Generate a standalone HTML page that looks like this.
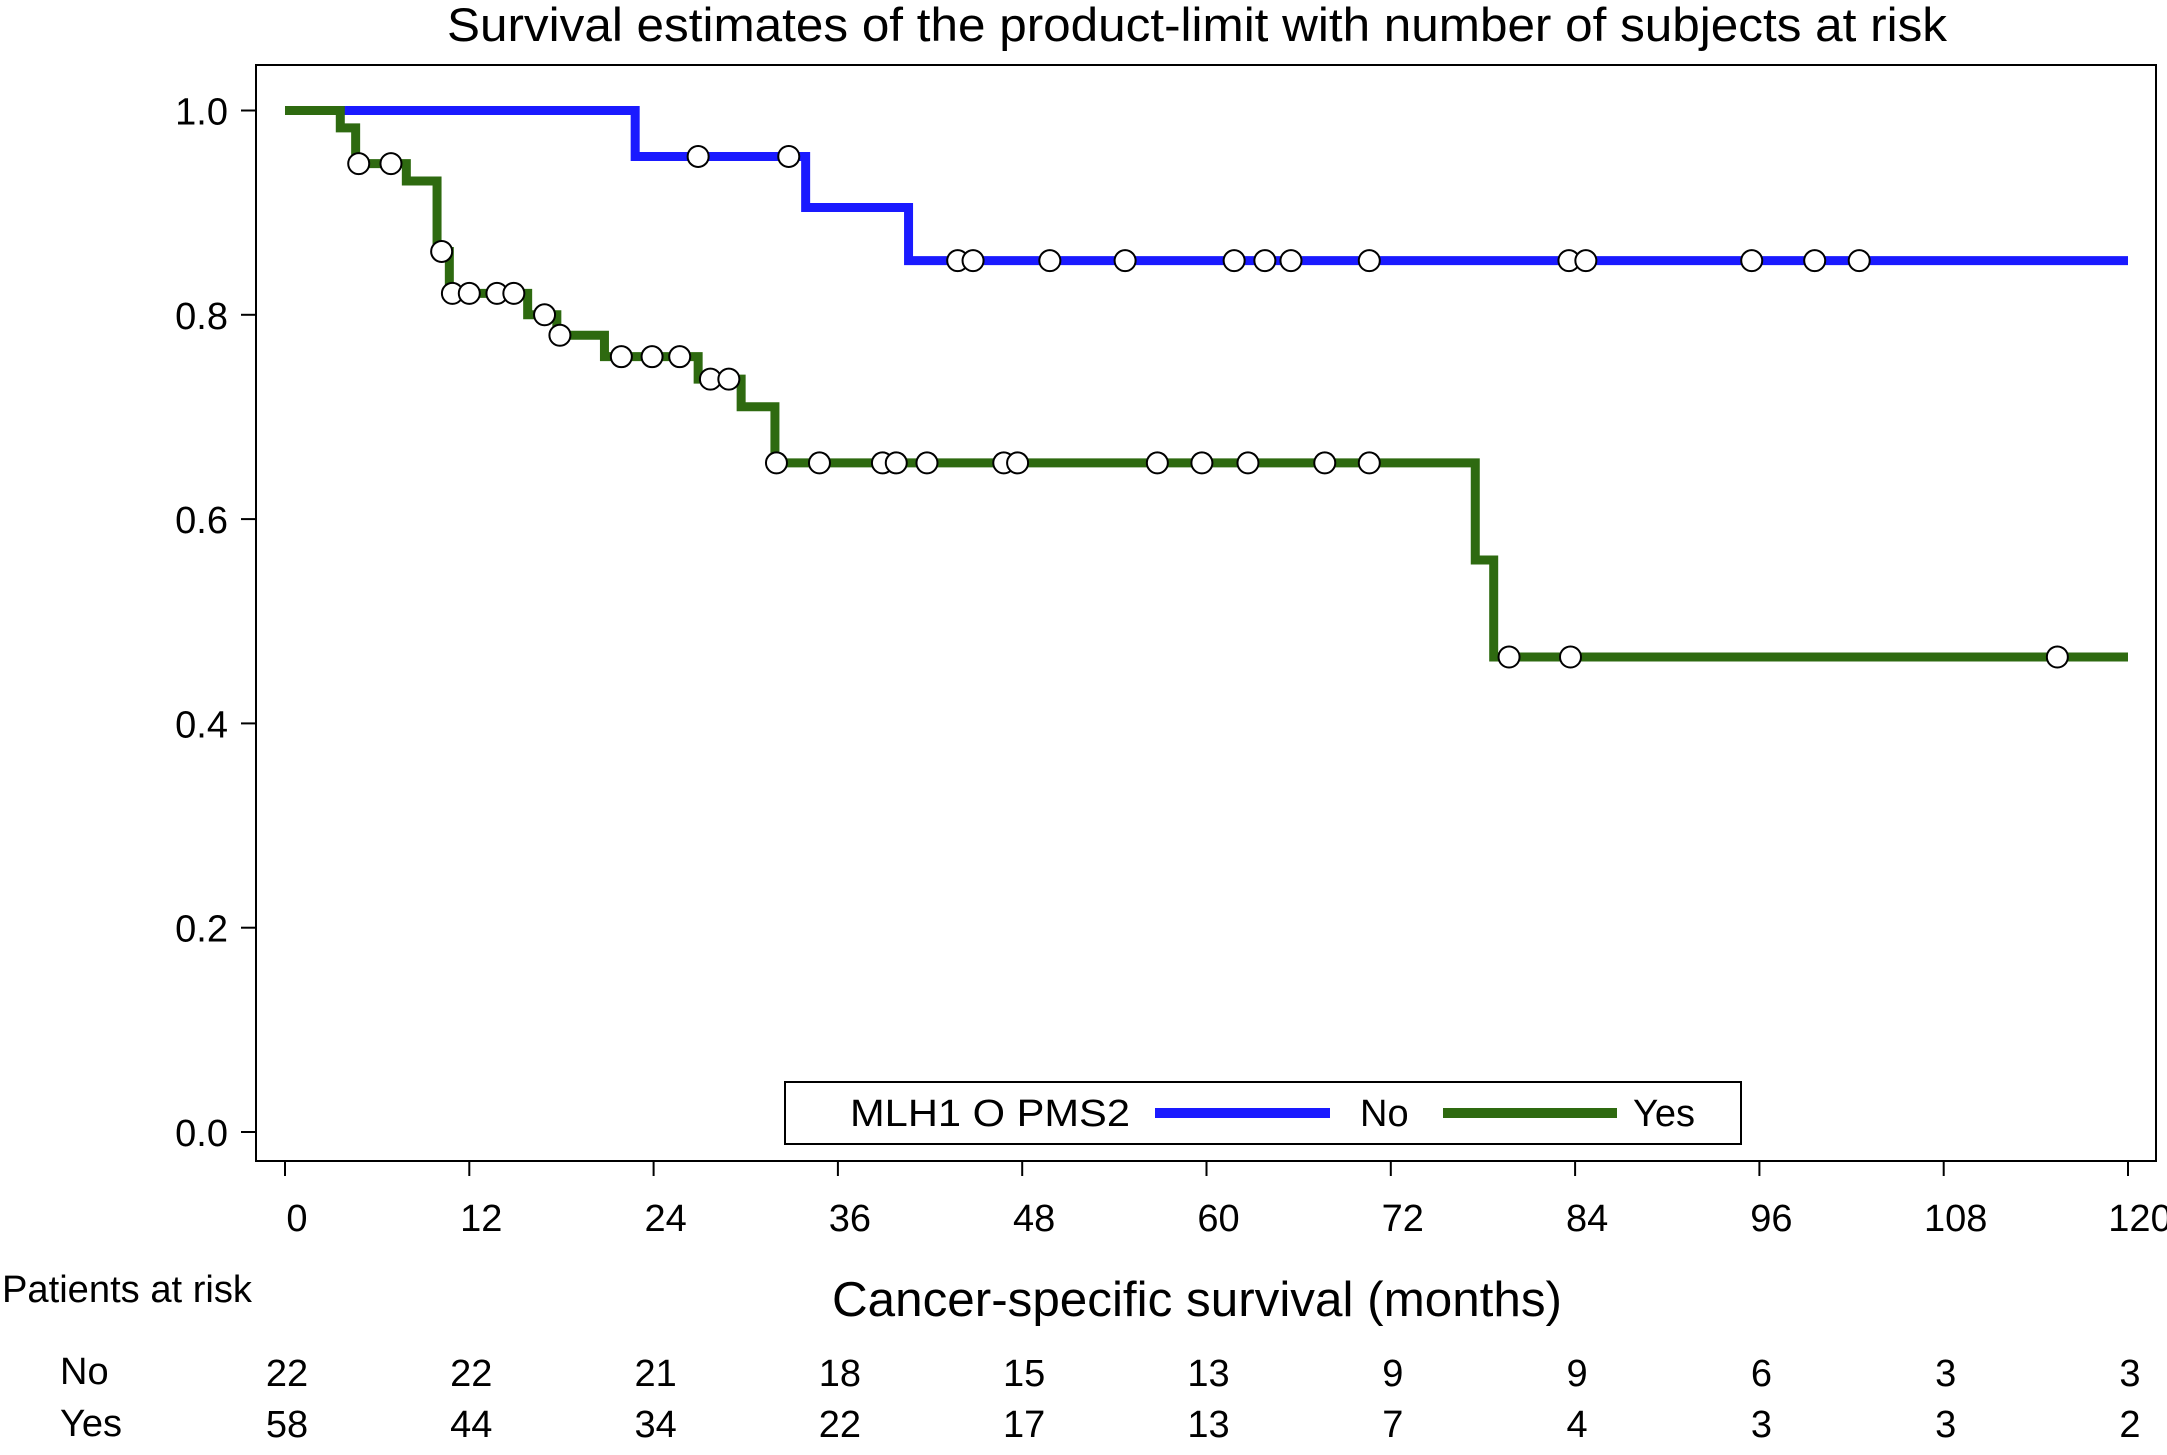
<!DOCTYPE html>
<html><head><meta charset="utf-8"><style>
body{margin:0;background:#fff;width:2167px;height:1450px;overflow:hidden;font-family:"Liberation Sans",sans-serif}
</style></head><body>
<svg id="chart" width="2167" height="1450" xmlns="http://www.w3.org/2000/svg" font-family="Liberation Sans, sans-serif">
<text x="1197" y="41" font-size="47" text-anchor="middle" textLength="1500" lengthAdjust="spacingAndGlyphs">Survival estimates of the product-limit with number of subjects at risk</text>
<rect x="256" y="65" width="1900" height="1096" fill="none" stroke="#000" stroke-width="2"/>
<g id="axes"></g>
<g id="series"></g>
<g>
<rect x="785" y="1082" width="956" height="62" fill="#fff" stroke="#000" stroke-width="2"/>
<text x="850" y="1126" font-size="38" textLength="280" lengthAdjust="spacingAndGlyphs">MLH1 O PMS2</text>
<line x1="1155" y1="1113" x2="1330" y2="1113" stroke="#1a1aff" stroke-width="10"/>
<text x="1360" y="1126" font-size="38">No</text>
<line x1="1443" y1="1113" x2="1617" y2="1113" stroke="#2e6a10" stroke-width="10"/>
<text x="1633" y="1126" font-size="38">Yes</text>
</g>
<text x="1197" y="1316" font-size="49" text-anchor="middle" textLength="730" lengthAdjust="spacingAndGlyphs">Cancer-specific survival (months)</text>
<text x="2" y="1302" font-size="38" textLength="250" lengthAdjust="spacingAndGlyphs">Patients at risk</text>
<text x="60" y="1384" font-size="38">No</text>
<text x="60" y="1436" font-size="38">Yes</text>
<g id="risk"></g>
</svg>
<script>
const xTicks=[0,12,24,36,48,60,72,84,96,108,120];
const yTicks=[0,0.2,0.4,0.6,0.8,1.0];
const noStepTimes=[0,22.8,33.9,40.6];
const noStepValues=[1,0.955,0.905,0.853];
const noCensor=[26.9,32.8,43.8,44.8,49.8,54.7,61.8,63.8,65.5,70.6,83.6,84.7,95.5,99.6,102.5];
const yesStepTimes=[0,3.6,4.6,7.9,9.9,10.7,15.8,17.7,20.8,26.9,29.7,31.9,77.5,78.7];
const yesStepValues=[1,0.983,0.948,0.931,0.862,0.821,0.80,0.78,0.759,0.737,0.71,0.655,0.56,0.465];
const yesCensor=[4.8,6.9,10.2,10.9,12,13.8,14.9,16.9,17.9,21.9,23.9,25.7,27.7,28.9,32.0,34.8,38.9,39.8,41.8,46.8,47.7,56.8,59.7,62.7,67.7,70.6,79.7,83.7,115.4];
const riskNo=[22,22,21,18,15,13,9,9,6,3,3];
const riskYes=[58,44,34,22,17,13,7,4,3,3,2];
const NS="http://www.w3.org/2000/svg";
const X=t=>285+t*(2128-285)/120;
const Y=v=>1132-v*(1132-110.5);
function mk(tag,attrs,parent,txt){const e=document.createElementNS(NS,tag);for(const k in attrs)e.setAttribute(k,attrs[k]);if(txt!==undefined)e.textContent=txt;parent.appendChild(e);return e;}
const axes=document.getElementById('axes');
xTicks.forEach(t=>{
 const l=mk('line',{x1:X(t),x2:X(t),y1:1161,y2:1176,stroke:'#000','stroke-width':2},axes);
 
 
 const tx=mk('text',{x:X(t)+12,y:1231,'font-size':38,'text-anchor':'middle'},axes,String(t));
 
 
});
yTicks.forEach(v=>{
 const l=mk('line',{x1:241,x2:256,y1:Y(v),y2:Y(v),stroke:'#000','stroke-width':2},axes);
 
 
 const tx=mk('text',{x:228,y:Y(v)+14,'font-size':38,'text-anchor':'end'},axes,v.toFixed(1));
 
 
});
const series=document.getElementById('series');
function valAt(times,vals,t){let v=vals[0];for(let i=0;i<times.length;i++){if(t>=times[i])v=vals[i];}return v;}
function draw(times,vals,cens,color,name){
 let d='M'+X(0)+','+Y(vals[0]);
 for(let i=1;i<times.length;i++){d+=' H'+X(times[i])+' V'+Y(vals[i]);}
 d+=' H'+X(120);
 const p=mk('path',{d:d,fill:'none',stroke:color,'stroke-width':9},series);
 
 
 cens.forEach(t=>{
  const c=mk('circle',{cx:X(t),cy:Y(valAt(times,vals,t)),r:10.5,fill:'#fff',stroke:'#000','stroke-width':2},series);
  
  
 });
}
draw(noStepTimes,noStepValues,noCensor,'#1a1aff','no');
draw(yesStepTimes,yesStepValues,yesCensor,'#2e6a10','yes');
const risk=document.getElementById('risk');
xTicks.forEach((t,i)=>{
 const a=mk('text',{x:X(t)+2,y:1386,'font-size':38,'text-anchor':'middle'},risk,String(riskNo[i]));
 
 
 const b=mk('text',{x:X(t)+2,y:1437,'font-size':38,'text-anchor':'middle'},risk,String(riskYes[i]));
 
 
});
</script>
</body></html>
